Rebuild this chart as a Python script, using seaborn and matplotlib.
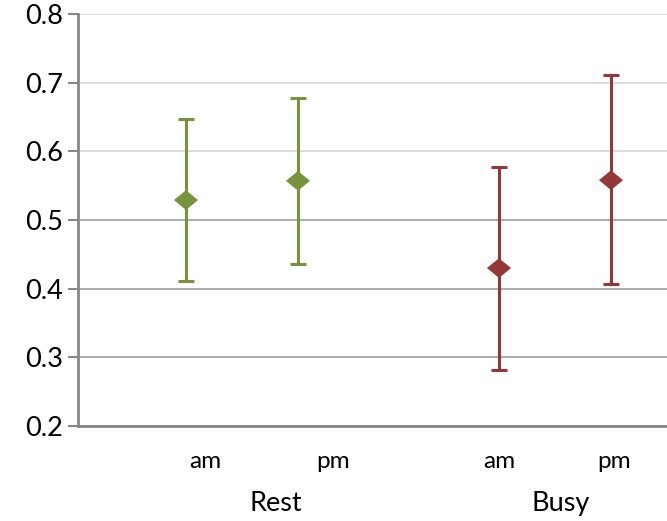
import matplotlib
matplotlib.use("Agg")
import matplotlib.pyplot as plt
import seaborn as sns
import pandas as pd
import numpy as np

groups = ["Rest", "Rest", "Busy", "Busy"]
times = ["am", "pm", "am", "pm"]
means = [0.529, 0.557, 0.430, 0.558]
upper = [0.647, 0.678, 0.577, 0.711]
lower = [0.411, 0.436, 0.282, 0.407]
yticks = [0.2, 0.3, 0.4, 0.5, 0.6, 0.7, 0.8]

green = "#77933C"
red = "#953735"
colors = {"Rest": green, "Busy": red}

sns.set_style("white")
plt.rcParams["font.family"] = ["Lato", "DejaVu Sans"]

df = pd.DataFrame({"group": groups, "time": times, "mean": means,
                   "upper": upper, "lower": lower})
# horizontal placement (layout, not data)
df["pos"] = [0.0, 1.0, 2.795, 3.795]

fig = plt.figure(figsize=(6.67, 5.21), dpi=100)
ax = fig.add_axes([78 / 667, 1 - 426 / 521, 589 / 667, 412 / 521])

for _, r in df.iterrows():
    c = colors[r["group"]]
    ax.errorbar(r["pos"], r["mean"],
                yerr=[[r["mean"] - r["lower"]], [r["upper"] - r["mean"]]],
                fmt="none", ecolor=c, elinewidth=2.2, capsize=5.5,
                capthick=2.2, zorder=3)

diamond = [(-1, 0), (0, 0.82), (1, 0), (0, -0.82), (-1, 0)]
sns.scatterplot(data=df, x="pos", y="mean", hue="group",
                palette=colors, marker=diamond, s=300, linewidth=0,
                legend=False, ax=ax, zorder=4)

ax.set_xlim(-0.964, 4.295)
ax.set_ylim(0.2, 0.8)
ax.set_yticks(yticks)
ax.set_yticklabels([f"{v:.1f}" for v in yticks], fontsize=19.5)
ax.set_xticks([])
ax.set_xlabel("")
ax.set_ylabel("")

ax.yaxis.grid(True, linewidth=1.3)
for i, gl in enumerate(ax.get_ygridlines()):
    v = yticks[i]
    gl.set_color("#a6a6a6" if v < 0.55 else "#d9d9d9")
ax.set_axisbelow(True)

for s in ["top", "right"]:
    ax.spines[s].set_visible(False)
for s in ["left", "bottom"]:
    ax.spines[s].set_color("#878787")
    ax.spines[s].set_linewidth(2)
ax.tick_params(axis="y", left=True, length=7, width=1.5, color="#878787",
               pad=4, labelcolor="black")

trans = ax.transAxes
time_x = [0.2156, 0.433, 0.715, 0.910]
for t, xx in zip(times, time_x):
    ax.text(xx, -0.085, t, transform=trans, ha="center", va="center",
            fontsize=17.5, color="black")
group_x = {"Rest": 0.336, "Busy": 0.820}
for g, xx in group_x.items():
    ax.text(xx, -0.187, g, transform=trans, ha="center", va="center",
            fontsize=19.5, color="black")

fig.savefig("out.png", dpi=100)
